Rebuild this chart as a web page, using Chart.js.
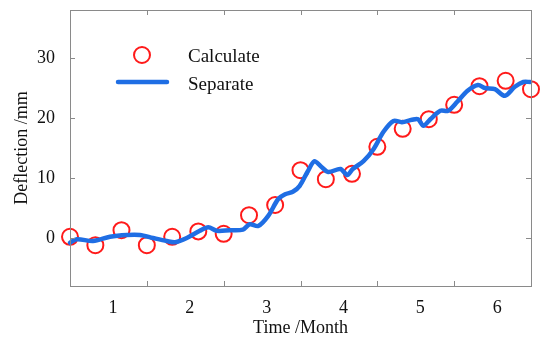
<!DOCTYPE html>
<html>
<head>
<meta charset="utf-8">
<script src="https://cdn.jsdelivr.net/npm/chart.js@4/dist/chart.umd.min.js"></script>
<style>
  html, body { margin: 0; padding: 0; background: #fff; }
  #wrap { width: 550px; height: 346px; }
</style>
</head>
<body>
<div id="wrap"><canvas id="chart" width="550" height="346"></canvas></div>
<script>
// Calculate (circles), sampled every 1/3 month
const calcTime = [0, 0.33, 0.67, 1, 1.33, 1.67, 2, 2.33, 2.67, 3, 3.33, 3.67, 4, 4.33, 4.67, 5, 5.33, 5.67, 6];
const calcDefl = [0.2, -1.2, 1.3, -1.2, 0.2, 1.1, 0.7, 3.8, 5.5, 11.3, 9.8, 10.7, 15.2, 18.2, 19.8, 22.2, 25.3, 26.2, 24.8];

// Separate (line)
const sepTime = [0, 0.09, 0.30, 0.52, 0.74, 0.91, 1.08, 1.26, 1.37, 1.52, 1.69, 1.80, 1.91, 2.08, 2.25, 2.34, 2.45,
  2.58, 2.71, 2.80, 2.90, 2.99, 3.09, 3.18, 3.26, 3.36, 3.52, 3.61, 3.68, 3.82, 3.95, 4.08, 4.21, 4.32, 4.45,
  4.53, 4.60, 4.69, 4.82, 4.92, 5.04, 5.17, 5.31, 5.40, 5.53, 5.66, 5.79, 5.90, 5.99];
const sepDefl = [-0.8, -0.2, -0.5, 0.2, 0.5, 0.5, 0.0, -0.5, -0.7, 0.0, 1.2, 1.8, 1.2, 1.3, 1.4, 2.3, 2.0,
  3.7, 6.5, 7.3, 7.7, 8.7, 11.0, 12.8, 12.0, 11.0, 11.5, 10.5, 11.5, 12.8, 14.8, 17.7, 19.5, 19.3, 19.7,
  19.8, 18.7, 19.8, 21.2, 21.2, 22.7, 24.5, 25.5, 25.0, 24.8, 23.7, 25.2, 26.0, 26.0];

const xLabels = ["1", "2", "3", "4", "5", "6"];
const xLabelPos = [0.56, 1.56, 2.56, 3.56, 4.56, 5.56];
const xTickMarks = [1, 2, 3, 4, 5];
const yTicks = [0, 10, 20, 30];

const RED = "#ff1a1a";
const BLUE = "#1f6ee4";
const AXIS = "#8a8a8a";
const FONT = "'Liberation Serif', 'Times New Roman', serif";

// inward tick marks + full box, MATLAB style
const boxPlugin = {
  id: "box",
  afterDatasetsDraw(chart) {
    const { ctx, chartArea: a, scales } = chart;
    ctx.save();
    ctx.strokeStyle = AXIS;
    ctx.lineWidth = 1;
    ctx.strokeRect(a.left + 0.5, a.top + 0.5, a.right - a.left, a.bottom - a.top);
    ctx.beginPath();
    xTickMarks.forEach(v => {
      const x = Math.round(scales.x.getPixelForValue(v)) + 0.5;
      ctx.moveTo(x, a.bottom); ctx.lineTo(x, a.bottom - 5);
      ctx.moveTo(x, a.top); ctx.lineTo(x, a.top + 5);
    });
    yTicks.forEach(v => {
      const y = Math.round(scales.y.getPixelForValue(v)) + 0.5;
      ctx.moveTo(a.left, y); ctx.lineTo(a.left + 5, y);
      ctx.moveTo(a.right, y); ctx.lineTo(a.right - 5, y);
    });
    ctx.stroke();
    ctx.restore();
  }
};

// legend drawn inside the plot
const legendPlugin = {
  id: "insideLegend",
  afterDraw(chart) {
    const { ctx } = chart;
    ctx.save();
    ctx.strokeStyle = RED;
    ctx.lineWidth = 2;
    ctx.beginPath();
    ctx.arc(142, 55, 8, 0, Math.PI * 2);
    ctx.stroke();
    ctx.strokeStyle = BLUE;
    ctx.lineWidth = 4.5;
    ctx.lineCap = "round";
    ctx.beginPath();
    ctx.moveTo(118, 82); ctx.lineTo(167, 82);
    ctx.stroke();
    ctx.fillStyle = "#111";
    ctx.font = "19px " + FONT;
    ctx.textBaseline = "middle";
    ctx.fillText(chart.data.datasets[1].label, 188, 57);
    ctx.fillText(chart.data.datasets[0].label, 188, 85);
    ctx.restore();
  }
};

new Chart(document.getElementById("chart"), {
  type: "line",
  data: {
    datasets: [
      {
        label: "Separate",
        data: sepTime.map((t, i) => ({ x: t, y: sepDefl[i] })),
        borderColor: BLUE,
        borderWidth: 4.5,
        pointRadius: 0,
        tension: 0.3,
        borderJoinStyle: "round",
        borderCapStyle: "round",
        fill: false,
        clip: false,
        order: 1
      },
      {
        label: "Calculate",
        data: calcTime.map((t, i) => ({ x: t, y: calcDefl[i] })),
        showLine: false,
        pointStyle: "circle",
        pointRadius: 8,
        pointBorderWidth: 2,
        pointBorderColor: RED,
        pointBackgroundColor: "rgba(0,0,0,0)",
        borderColor: RED,
        clip: false,
        order: 2
      }
    ]
  },
  options: {
    responsive: false,
    animation: false,
    devicePixelRatio: 1,
    layout: { padding: { top: 10, right: 19, left: 0, bottom: 0 } },
    plugins: { legend: { display: false }, tooltip: { enabled: false } },
    scales: {
      x: {
        type: "linear",
        min: 0, max: 6,
        grid: { display: false, drawTicks: false },
        border: { display: false },
        afterBuildTicks: (s) => { s.ticks = xLabelPos.map(v => ({ value: v })); },
        afterFit: (s) => { s.height = 60; s.paddingLeft = 0; s.paddingRight = 0; },
        ticks: {
          padding: 11,
          maxRotation: 0,
          autoSkip: false,
          color: "#111",
          font: { family: FONT, size: 18 },
          callback: (v, i) => xLabels[i]
        },
        title: {
          display: true, text: "Time /Month", color: "#111",
          font: { family: FONT, size: 18 }, padding: { top: 0, bottom: 7 }
        }
      },
      y: {
        min: -8, max: 38,
        grid: { display: false, drawTicks: false },
        border: { display: false },
        afterBuildTicks: (s) => { s.ticks = yTicks.map(v => ({ value: v })); },
        afterFit: (s) => { s.width = 70; s.paddingTop = 0; s.paddingBottom = 0; },
        ticks: {
          padding: 15,
          color: "#111",
          font: { family: FONT, size: 18 }
        },
        title: {
          display: true, text: "Deflection /mm", color: "#111",
          font: { family: FONT, size: 18 }, padding: { top: 11, bottom: 0 }
        }
      }
    }
  },
  plugins: [boxPlugin, legendPlugin]
});
</script>
</body>
</html>
